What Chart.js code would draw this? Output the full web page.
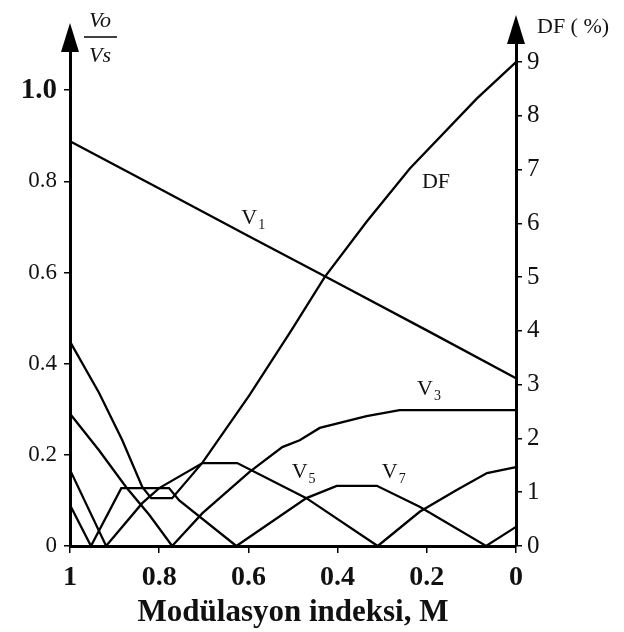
<!DOCTYPE html>
<html>
<head>
<meta charset="utf-8">
<script src="https://cdn.jsdelivr.net/npm/chart.js@4"></script>
<style>
  html, body { margin: 0; padding: 0; background: #fff; }
  canvas { display: block; }
</style>
</head>
<body>
<canvas id="grafico" width="624" height="632"></canvas>
<script>
// valores (M decresce da esquerda para a direita)
const xTicks = [1, 0.8, 0.6, 0.4, 0.2, 0];
const yTicks = [0, 0.2, 0.4, 0.6, 0.8, 1.0];
const dfTicks = [0, 1, 2, 3, 4, 5, 6, 7, 8, 9];

const v1M = [1, 0.8, 0.6, 0.4, 0.2, 0];
const v1 = [0.888, 0.784, 0.680, 0.577, 0.473, 0.368];

const v3M = [1, 0.935, 0.874, 0.822, 0.771, 0.703, 0.598, 0.524, 0.485, 0.44, 0.335, 0.261, 0];
const v3 = [0.29, 0.21, 0.129, 0.068, 0, 0.072, 0.162, 0.217, 0.232, 0.259, 0.285, 0.298, 0.298];

const v5M = [1, 0.919, 0.838, 0.8, 0.703, 0.625, 0.47, 0.31, 0.216, 0.133, 0.065, 0];
const v5 = [0.167, 0, 0.094, 0.127, 0.182, 0.182, 0.105, 0, 0.075, 0.123, 0.160, 0.173];

const v7M = [1, 0.953, 0.885, 0.778, 0.755, 0.627, 0.47, 0.402, 0.312, 0.216, 0.067, 0];
const v7 = [0.09, 0, 0.127, 0.127, 0.10, 0, 0.105, 0.132, 0.132, 0.086, 0, 0.042];

// DF em % (eixo da direita)
const dfM = [1, 0.935, 0.883, 0.838, 0.818, 0.771, 0.703, 0.598, 0.503, 0.429, 0.335, 0.238, 0.088, 0];
const df = [3.8, 2.85, 1.97, 1.10, 0.89, 0.89, 1.55, 2.8, 4.02, 5.0, 6.03, 7.02, 8.32, 9.0];

function pts(xs, ys) {
    return xs.map((x, i) => ({ x: x, y: ys[i] }));
}

function serie(xs, ys, eixo) {
    return {
        data: pts(xs, ys),
        yAxisID: eixo,
        borderColor: "#000",
        borderWidth: 2.3,
        pointRadius: 0,
        tension: 0,
        fill: false,
        clip: 4
    };
}

const serif = "'Liberation Serif', 'Times New Roman', serif";

// setas, rotulos das curvas e titulos dos eixos
const extras = {
    id: "extras",
    afterDraw(chart) {
        const c = chart.ctx;
        const a = chart.chartArea;
        const sx = chart.scales.x;
        const sy = chart.scales.y;
        c.save();
        c.fillStyle = "#000";
        c.strokeStyle = "#000";
        c.lineWidth = 3;
        // prolonga os eixos ate as setas
        c.beginPath();
        c.moveTo(a.left, a.top); c.lineTo(a.left, 45);
        c.moveTo(a.right, a.top); c.lineTo(a.right, 38);
        c.stroke();
        function seta(x, tip, base, w) {
            c.beginPath();
            c.moveTo(x, tip);
            c.lineTo(x - w, base);
            c.lineTo(x + w, base);
            c.closePath();
            c.fill();
        }
        seta(a.left, 23, 52, 9);
        seta(a.right, 15, 44, 9);

        c.fillStyle = "#111";
        c.textBaseline = "alphabetic";
        function rot(txt, sub, m, v) {
            const x = sx.getPixelForValue(m);
            const y = sy.getPixelForValue(v);
            c.font = "22px " + serif;
            c.textAlign = "left";
            c.fillText(txt, x, y);
            if (sub) {
                const w = c.measureText(txt).width;
                c.font = "14px " + serif;
                c.fillText(sub, x + w + 1, y + 5);
            }
        }
        rot("V", "1", 0.616, 0.706);
        rot("DF", "", 0.211, 0.785);
        rot("V", "3", 0.222, 0.331);
        rot("V", "5", 0.503, 0.149);
        rot("V", "7", 0.301, 0.149);

        // Vo / Vs
        c.font = "italic 22px " + serif;
        c.textAlign = "center";
        c.fillText("Vo", 100, 27);
        c.fillText("Vs", 100, 62);
        c.lineWidth = 1.5;
        c.beginPath();
        c.moveTo(84, 37); c.lineTo(117, 37);
        c.stroke();

        c.font = "22px " + serif;
        c.textAlign = "left";
        c.fillText("DF ( %)", 537, 33);
        c.restore();
    }
};

const ctx = document.getElementById("grafico");

new Chart(ctx, {
    type: "line",
    data: {
        datasets: [
            serie(v1M, v1, "y"),
            serie(v3M, v3, "y"),
            serie(v5M, v5, "y"),
            serie(v7M, v7, "y"),
            serie(dfM, df, "y2")
        ]
    },
    plugins: [extras],
    options: {
        responsive: false,
        animation: false,
        devicePixelRatio: 1,
        layout: { padding: { top: 40, left: 0, right: 0, bottom: 0 } },
        plugins: {
            legend: { display: false },
            tooltip: { enabled: false }
        },
        scales: {
            x: {
                type: "linear",
                reverse: true,
                min: 0,
                max: 1,
                afterBuildTicks: s => { s.ticks = xTicks.map(v => ({ value: v })); },
                afterFit: s => { s.height = 86; },
                border: { display: true, color: "#000", width: 3 },
                grid: { drawOnChartArea: false, color: "#000", lineWidth: 1.5, tickLength: 7 },
                ticks: {
                    color: "#111",
                    padding: 8,
                    maxRotation: 0,
                    autoSkip: false,
                    font: { family: serif, size: 28, weight: "bold" },
                    callback: v => String(v)
                },
                title: {
                    display: true,
                    text: "Modülasyon indeksi, M",
                    color: "#111",
                    padding: { top: 0, bottom: 0 },
                    font: { family: serif, size: 31, weight: "bold" }
                }
            },
            y: {
                position: "left",
                min: 0,
                max: 1.11,
                afterBuildTicks: s => { s.ticks = yTicks.map(v => ({ value: v })); },
                afterFit: s => { s.width = 70; },
                border: { display: true, color: "#000", width: 3 },
                grid: { drawOnChartArea: false, color: "#000", lineWidth: 1.5, tickLength: 6 },
                ticks: {
                    color: "#111",
                    padding: 7,
                    autoSkip: false,
                    font: c => (c.tick && c.tick.value === 1)
                        ? { family: serif, size: 29, weight: "bold" }
                        : { family: serif, size: 23 },
                    callback: v => (v === 0 ? "0" : v.toFixed(1))
                }
            },
            y2: {
                position: "right",
                min: 0,
                max: 9.41,
                afterBuildTicks: s => { s.ticks = dfTicks.map(v => ({ value: v })); },
                afterFit: s => { s.width = 108; },
                border: { display: true, color: "#000", width: 3 },
                grid: { drawOnChartArea: false, color: "#000", lineWidth: 1.5, tickLength: 6 },
                ticks: {
                    color: "#111",
                    padding: 5,
                    autoSkip: false,
                    font: { family: serif, size: 25 },
                    callback: v => String(v)
                }
            }
        }
    }
});
</script>
</body>
</html>
